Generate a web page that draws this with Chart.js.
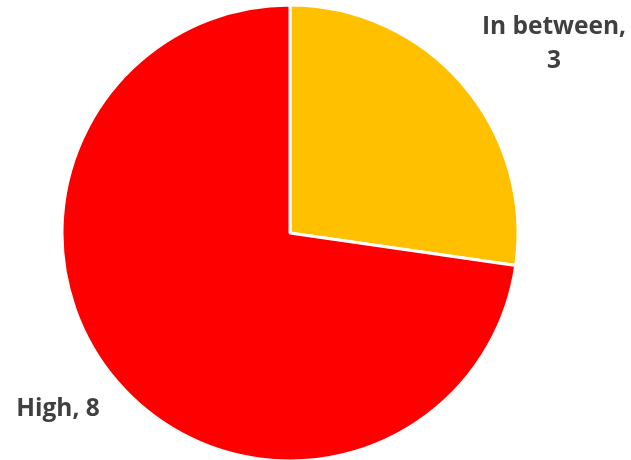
<!DOCTYPE html>
<html>
<head>
<meta charset="utf-8">
<script src="https://cdn.jsdelivr.net/npm/chart.js@4/dist/chart.umd.min.js"></script>
<style>
  html, body { margin: 0; padding: 0; background: #fff; }
  #wrap { width: 631px; height: 460px; }
</style>
</head>
<body>
<div id="wrap"><canvas id="pieChart" width="631" height="460"></canvas></div>
<script>
const categories = ['In between', 'High'];
const values = [3, 8];
const colors = ['#FFC000', '#FF0000'];
// where each data label sits (text centre, px) and how many lines it uses
const labelSpots = [
    { x: 554, y: 27, twoLines: true },
    { x: 58, y: 409, twoLines: false }
];

// draws the "name, value" labels next to each slice
const sliceLabels = {
    id: 'sliceLabels',
    afterDatasetsDraw(chart) {
        const ctx = chart.ctx;
        ctx.save();
        ctx.fillStyle = '#404040';
        ctx.font = 'bold 24.5px "Open Sans", sans-serif';
        ctx.textAlign = 'center';
        ctx.textBaseline = 'middle';
        const lineH = 34;
        chart.data.labels.forEach((name, i) => {
            const spot = labelSpots[i];
            const v = chart.data.datasets[0].data[i];
            const lines = spot.twoLines ? [name + ',', String(v)] : [name + ', ' + v];
            lines.forEach((t, k) => ctx.fillText(t, spot.x, spot.y + k * lineH));
        });
        ctx.restore();
    }
};

new Chart(document.getElementById('pieChart').getContext('2d'), {
    type: 'pie',
    data: {
        labels: categories,
        datasets: [{
            data: values,
            backgroundColor: colors,
            borderColor: '#FFFFFF',
            borderWidth: 3
        }]
    },
    options: {
        responsive: false,
        animation: false,
        radius: 228,
        layout: { padding: { left: 63, right: 114, top: 6, bottom: 0 } },
        plugins: {
            legend: { display: false },
            tooltip: { enabled: false }
        }
    },
    plugins: [sliceLabels]
});
</script>
</body>
</html>
